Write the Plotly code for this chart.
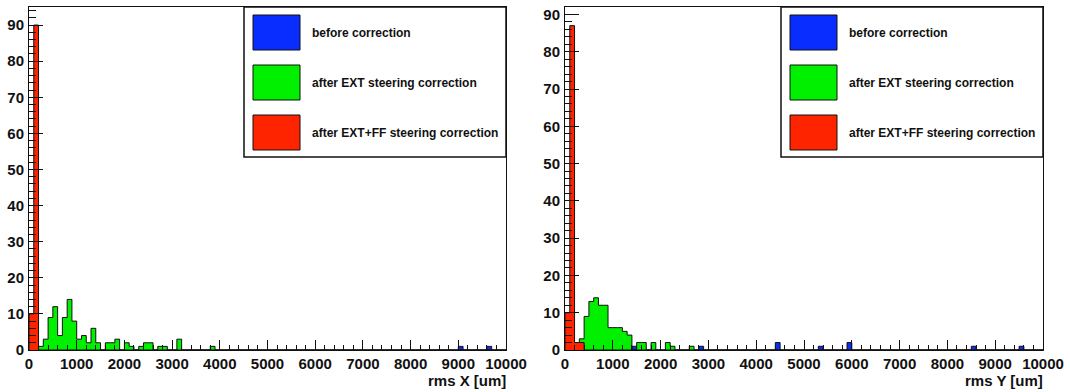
import numpy as np
import plotly.graph_objects as go

W, H = 1070, 392

# 100 bins of 100 um from 0 to 10000 um
NBINS = 100
BIN_W = 100.0
EDGES = np.arange(NBINS + 1) * BIN_W

# ---- rms X : bin index -> entries ----
x_before_bins = [90, 96]
x_before_counts = [1, 1]

x_ext_bins = [2, 3, 4, 5, 6, 7, 8, 9, 10, 11, 12, 13, 14, 16, 17, 18, 20, 21, 23, 24, 25, 27, 28, 31, 38]
x_ext_counts = [1, 3, 9, 12, 4, 9, 14, 8, 3, 4, 2, 6, 2, 2, 2, 3, 2, 1, 1, 2, 2, 1, 1, 3, 1]

x_extff_bins = [0, 1]
x_extff_counts = [10, 90]

# ---- rms Y : bin index -> entries ----
y_before_bins = [14, 28, 44, 53, 59, 85, 95]
y_before_counts = [1, 1, 2, 1, 2, 1, 1]

y_ext_bins = [3, 4, 5, 6, 7, 8, 9, 10, 11, 12, 13, 15, 16, 18, 21, 22, 26]
y_ext_counts = [3, 9, 13, 14, 12, 12, 6, 6, 6, 5, 4, 2, 2, 2, 2, 1, 1]

y_extff_bins = [0, 1, 2, 3]
y_extff_counts = [10, 87, 2, 2]

LABELS = ["before correction", "after EXT steering correction", "after EXT+FF steering correction"]
COLORS = ["#0a2dff", "#00f000", "#ff2400"]

X_TITLES = ["rms X [um]", "rms Y [um]"]
Y_MAX = [95.0, 92.0]

# panel frames in pixels (left, right, top, bottom)
PANELS = [(29, 506, 7, 350), (565, 1043, 7, 350)]

FONT = "Liberation Sans, Arial, Helvetica, sans-serif"


def px(x):
    return x / W


def py(y):
    return 1 - y / H


def hist_trace(bins, counts, color, xa, ya):
    full = np.zeros(NBINS)
    full[np.array(bins)] = counts
    xs = np.concatenate([[EDGES[0]], EDGES, [EDGES[-1]]])
    ys = np.concatenate([[0.0], full, [full[-1]], [0.0]])
    return go.Scatter(
        x=xs, y=ys, mode="lines", line=dict(shape="hv", color="#111111", width=1),
        fill="tozeroy", fillcolor=color, xaxis=xa, yaxis=ya,
        hoverinfo="skip", showlegend=False,
    )


fig = go.Figure()

datasets = [
    [(x_before_bins, x_before_counts), (x_ext_bins, x_ext_counts), (x_extff_bins, x_extff_counts)],
    [(y_before_bins, y_before_counts), (y_ext_bins, y_ext_counts), (y_extff_bins, y_extff_counts)],
]

shapes = []
annotations = []
layout_axes = {}

for i, (hists, (l, r, t, b)) in enumerate(zip(datasets, PANELS)):
    xa = "x" if i == 0 else "x2"
    ya = "y" if i == 0 else "y2"
    for (bins, counts), color in zip(hists, COLORS):
        fig.add_trace(hist_trace(bins, counts, color, xa, ya))

    xkey = "xaxis" if i == 0 else "xaxis2"
    ykey = "yaxis" if i == 0 else "yaxis2"
    layout_axes[xkey] = dict(
        domain=[px(l), px(r)], range=[0, 10000], anchor=ya, automargin=False,
        showgrid=False, zeroline=False, showline=True, linecolor="#111111", linewidth=1, mirror=True,
        ticks="inside", ticklen=10, tickcolor="#111111", tick0=0, dtick=1000, tickformat="d",
        minor=dict(ticks="inside", ticklen=5, dtick=200, tickcolor="#111111", showgrid=False),
        tickfont=dict(family=FONT, size=15, color="#111111", weight="bold"),
        ticklabelstandoff=0,
    )
    layout_axes[ykey] = dict(
        domain=[py(b), py(t)], range=[0, Y_MAX[i]], anchor=xa, automargin=False,
        showgrid=False, zeroline=False, showline=True, linecolor="#111111", linewidth=1, mirror=True,
        ticks="inside", ticklen=14, tickcolor="#111111", tick0=0, dtick=10,
        minor=dict(ticks="inside", ticklen=7, dtick=2, tickcolor="#111111", showgrid=False),
        tickfont=dict(family=FONT, size=15, color="#111111", weight="bold"),
        ticklabelstandoff=1,
    )

    # axis title, right-aligned at the end of the x axis
    annotations.append(dict(
        x=px(r + 2), y=py(380), xref="paper", yref="paper", xanchor="right", yanchor="middle",
        text=X_TITLES[i], showarrow=False,
        font=dict(family=FONT, size=15, color="#111111", weight="bold"),
    ))

    # legend box in the top-right corner of the frame
    lx0 = r - 262
    shapes.append(dict(type="rect", xref="paper", yref="paper",
                       x0=px(lx0), x1=px(r), y0=py(157), y1=py(t),
                       line=dict(color="#111111", width=1.5), fillcolor="white", layer="above"))
    for k, (label, color) in enumerate(zip(LABELS, COLORS)):
        sy0 = 15 + 50 * k
        shapes.append(dict(type="rect", xref="paper", yref="paper",
                           x0=px(lx0 + 9), x1=px(lx0 + 56), y0=py(sy0 + 35), y1=py(sy0),
                           line=dict(color="#111111", width=1), fillcolor=color, layer="above"))
        annotations.append(dict(
            x=px(lx0 + 66), y=py(sy0 + 17.5), xref="paper", yref="paper",
            xanchor="left", yanchor="middle", text=label, showarrow=False,
            font=dict(family=FONT, size=12, color="#111111", weight="bold"),
        ))

fig.update_layout(
    width=W, height=H, margin=dict(l=0, r=0, t=0, b=0, autoexpand=False),
    paper_bgcolor="white", plot_bgcolor="white",
    shapes=shapes, annotations=annotations, showlegend=False,
    **layout_axes,
)

fig.write_html("out.html")
